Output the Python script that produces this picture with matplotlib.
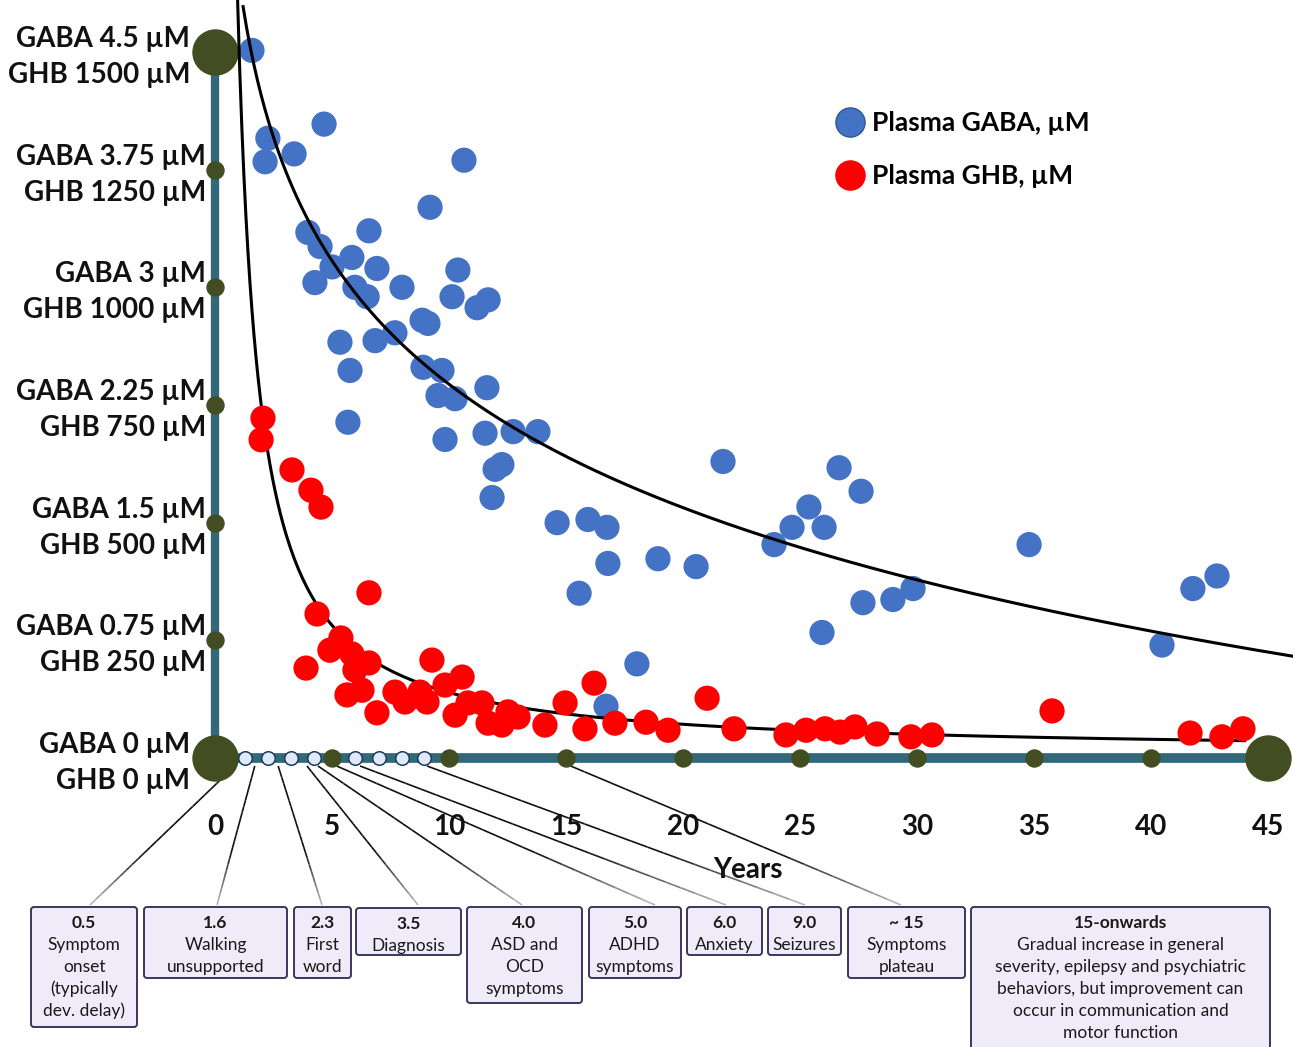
import numpy as np
import matplotlib
matplotlib.use("Agg")
import matplotlib.pyplot as plt
import matplotlib.transforms as mtransforms
from matplotlib.patches import FancyBboxPatch
from matplotlib.collections import LineCollection
from matplotlib.colors import to_rgba
from matplotlib.lines import Line2D

plt.rcParams['font.family'] = ['Lato', 'DejaVu Sans']

# plasma GABA: age (years) and concentration (uM)
gaba_age = np.array([1.58, 2.26, 2.14, 3.38, 4.66, 10.64, 9.19, 3.97, 4.49, 6.58,
                     5.85, 5.0, 4.27, 6.92, 5.98, 6.50, 7.99, 10.38, 10.13, 11.20,
                     11.67, 8.85, 9.10, 5.34, 6.84, 7.69, 5.77, 8.89, 9.70, 9.53,
                     10.26, 11.62, 5.68, 9.83, 11.54, 12.74, 13.80, 12.26, 11.97, 11.84,
                     14.62, 15.94, 16.75, 16.79, 15.56, 18.93, 20.56, 18.03, 16.71, 21.71,
                     26.67, 27.61, 25.38, 24.66, 26.03, 23.89, 25.94, 27.69, 28.97, 29.83,
                     34.79, 40.47, 41.79, 42.82])
gaba_um = np.array([4.51, 3.95, 3.80, 3.85, 4.04, 3.81, 3.51, 3.35, 3.26, 3.36,
                    3.19, 3.13, 3.03, 3.12, 3.00, 2.94, 3.00, 3.11, 2.94, 2.87,
                    2.92, 2.79, 2.77, 2.65, 2.66, 2.71, 2.47, 2.49, 2.47, 2.31,
                    2.29, 2.36, 2.14, 2.03, 2.07, 2.08, 2.08, 1.87, 1.84, 1.66,
                    1.50, 1.52, 1.47, 1.24, 1.05, 1.27, 1.22, 0.60, 0.33, 1.89,
                    1.85, 1.70, 1.60, 1.47, 1.47, 1.36, 0.80, 0.99, 1.01, 1.08,
                    1.36, 0.72, 1.08, 1.16])

# plasma GHB: age (years) and concentration (uM)
ghb_age = np.array([2.05, 1.97, 3.29, 4.10, 4.53, 6.58, 4.36, 3.89, 5.38, 4.91,
                    5.85, 6.58, 5.98, 5.64, 6.28, 6.92, 7.69, 8.12, 8.76, 9.06,
                    9.27, 9.83, 10.56, 10.26, 10.81, 11.41, 11.67, 12.26, 12.52, 12.95,
                    14.10, 14.96, 16.20, 15.81, 17.09, 18.42, 19.36, 21.03, 22.18, 24.40,
                    25.26, 26.07, 26.71, 27.35, 28.29, 29.74, 30.64, 35.77, 41.67, 43.03,
                    43.93])
ghb_um = np.array([722, 676, 612, 569, 533, 351, 306, 191, 255, 229,
                   221, 202, 187, 134, 144, 96, 140, 119, 140, 119,
                   208, 155, 172, 91, 117, 117, 74, 70, 98, 87,
                   70, 117, 159, 62, 74, 76, 59, 127, 62, 49,
                   59, 62, 55, 66, 51, 45, 49, 100, 53, 45,
                   62])

# axis ticks
gaba_ticks = [0, 0.75, 1.5, 2.25, 3, 3.75, 4.5]
ghb_ticks = [0, 250, 500, 750, 1000, 1250, 1500]
year_ticks = [0, 5, 10, 15, 20, 25, 30, 35, 40, 45]
minor_marks = [1.3, 2.25, 3.25, 4.25, 6.0, 7.0, 8.0, 8.95]

# milestones
milestone_label = ["0.5", "1.6", "2.3", "3.5", "4.0", "5.0", "6.0", "9.0", "~ 15", "15-onwards"]
milestone_text = [
    ["Symptom", "onset", "(typically", "dev. delay)"],
    ["Walking", "unsupported"],
    ["First", "word"],
    ["Diagnosis"],
    ["ASD and", "OCD", "symptoms"],
    ["ADHD", "symptoms"],
    ["Anxiety"],
    ["Seizures"],
    ["Symptoms", "plateau"],
    ["Gradual increase in general", "severity, epilepsy and psychiatric",
     "behaviors, but improvement can", "occur in communication and", "motor function"],
]

# ---- layout (reference pixels) ----
W, H = 1293, 1047
x0_px, yr_px = 215, 23.4
y0_px, um_px = 758, 156.9
ghb_per_gaba = ghb_ticks[-1] / gaba_ticks[-1]

box_px = [(31, 137, 907, 1027), (144, 287, 907, 978), (294, 351, 907, 978),
          (356, 461, 908, 955), (467, 582, 907, 1003), (589, 681, 907, 978),
          (687, 762, 907, 955), (768, 841, 907, 955), (848, 965, 907, 978),
          (971, 1270, 907, 1060)]
leader_year = [0.85, 1.7, 2.7, 3.93, 4.4, 5.2, 6.2, 9.06, 15.2]
leader_end_px = [90, 217, 322, 418, 522, 655, 726, 805, 901]

teal = '#31697a'
olive = '#434d22'
blue = '#4472c4'
red = '#ff0000'
label_font = dict(fontsize=20, fontweight='bold', color='#111111')

fig = plt.figure(figsize=(W / 100, H / 100), dpi=100)
ax = fig.add_axes([0, 0, 1, 1])
ax.set_xlim(-x0_px / yr_px, (W - x0_px) / yr_px)
ax.set_ylim(-(H - y0_px) / um_px, y0_px / um_px)
ax.axis('off')

# transform: reference pixel coords (origin top-left)
px = mtransforms.Affine2D().scale(1 / W, -1 / H).translate(0, 1) + fig.transFigure

# axis bars
ax.plot([0, 0], [gaba_ticks[0], gaba_ticks[-1]], color=teal, lw=6, solid_capstyle='butt', zorder=2)
ax.plot([year_ticks[0], year_ticks[-1]], [0, 0], color=teal, lw=7, solid_capstyle='butt', zorder=2)

# knobs on the axes
ax.scatter([0] * (len(gaba_ticks) - 2), gaba_ticks[1:-1], s=150, color=olive, zorder=3)
ax.scatter(year_ticks[1:-1], [0] * (len(year_ticks) - 2), s=150, color=olive, zorder=3)
ax.scatter([0, 0, year_ticks[-1]], [gaba_ticks[-1], 0, 0], s=1050, color=olive, zorder=3)
ax.scatter(minor_marks, [0] * len(minor_marks), s=95, color='#deeaf6',
           edgecolors='#1f3864', linewidths=1.1, zorder=3)

# data points
ax.scatter(gaba_age, gaba_um, s=330, color=blue, edgecolors='none', zorder=4)
ax.scatter(ghb_age, ghb_um / ghb_per_gaba, s=330, color=red, edgecolors='none', zorder=6)

# GABA trend: logarithmic fit
k, c0 = np.polyfit(np.log(gaba_age), gaba_um, 1)
t = np.linspace(1.2, 47, 300)
ax.plot(t, k * np.log(t) + c0, color='black', lw=2.2, zorder=5)

# GHB trend: power fit with offset
best = None
for b in np.arange(-3.0, -0.29, 0.01):
    A = np.column_stack([ghb_age ** b, np.ones_like(ghb_age)])
    coef, *_ = np.linalg.lstsq(A, ghb_um, rcond=None)
    err = np.sum((A @ coef - ghb_um) ** 2)
    if best is None or err < best[0]:
        best = (err, b, coef)
_, b, coef = best
t2 = np.linspace(0.8, 44, 500)
ax.plot(t2, (coef[0] * t2 ** b + coef[1]) / ghb_per_gaba, color='black', lw=2.2, zorder=5)

# y tick labels
for g, h in zip(gaba_ticks, ghb_ticks):
    dx = -25 if g in (gaba_ticks[0], gaba_ticks[-1]) else -9
    ax.annotate(f"GABA {g:g} µM", xy=(0, g), xytext=(dx, 13), textcoords='offset pixels',
                ha='right', va='center', **label_font)
    ax.annotate(f"GHB {h} µM", xy=(0, g), xytext=(dx, -23), textcoords='offset pixels',
                ha='right', va='center', **label_font)

# x tick labels
for v in year_ticks:
    ax.annotate(str(v), xy=(v, 0), xytext=(0, -69), textcoords='offset pixels',
                ha='center', va='center', **label_font)
ax.text(748, 870, "Years", transform=px, ha='center', va='center', **label_font)

# legend
handles = [Line2D([], [], ls='', marker='o', ms=21, mfc=blue, mec='#2f5597', mew=1),
           Line2D([], [], ls='', marker='o', ms=21, mfc=red, mec=red)]
ax.legend(handles, ["Plasma GABA, µM", "Plasma GHB, µM"], loc='upper left',
          bbox_to_anchor=(834, 111), bbox_transform=px, frameon=False,
          prop=dict(size=19, weight='bold'),
          borderpad=0, borderaxespad=0, handlelength=1.2, handletextpad=0.25,
          labelspacing=1.1)

# milestone boxes
for (l, r, t_, b_), lab, lines in zip(box_px, milestone_label, milestone_text):
    ax.add_patch(FancyBboxPatch((l, t_), r - l, b_ - t_, boxstyle='round,pad=0,rounding_size=3',
                                transform=px, facecolor='#efebf8', edgecolor='#3c3560',
                                lw=1.4, zorder=7))
    cx = (l + r) / 2
    for j, s in enumerate([lab] + lines):
        ax.text(cx, t_ + 16 + 22 * j, s, transform=px, ha='center', va='center',
                fontsize=12.5, fontweight='bold' if j == 0 else 'normal',
                color='#1a1a1a', zorder=8)

# leader lines, dark at the timeline and fading towards the boxes
fade = np.linspace(0, 1, 25)
shade = [to_rgba('#111111') if f < 0.6 else
         tuple(np.array(to_rgba('#111111')) * (1 - (f - 0.6) / 0.4) +
               np.array(to_rgba('#c8c8c8')) * ((f - 0.6) / 0.4))
         for f in fade[:-1]]
for yr, ex in zip(leader_year, leader_end_px):
    sx, sy = x0_px + yr * yr_px, y0_px + 8
    xs = sx + (ex - sx) * fade
    ys = sy + (905 - sy) * fade
    segs = np.stack([np.column_stack([xs[:-1], ys[:-1]]), np.column_stack([xs[1:], ys[1:]])], axis=1)
    ax.add_collection(LineCollection(segs, colors=shade, linewidths=1.2, transform=px, zorder=1))

plt.savefig("out.png", dpi=100)
